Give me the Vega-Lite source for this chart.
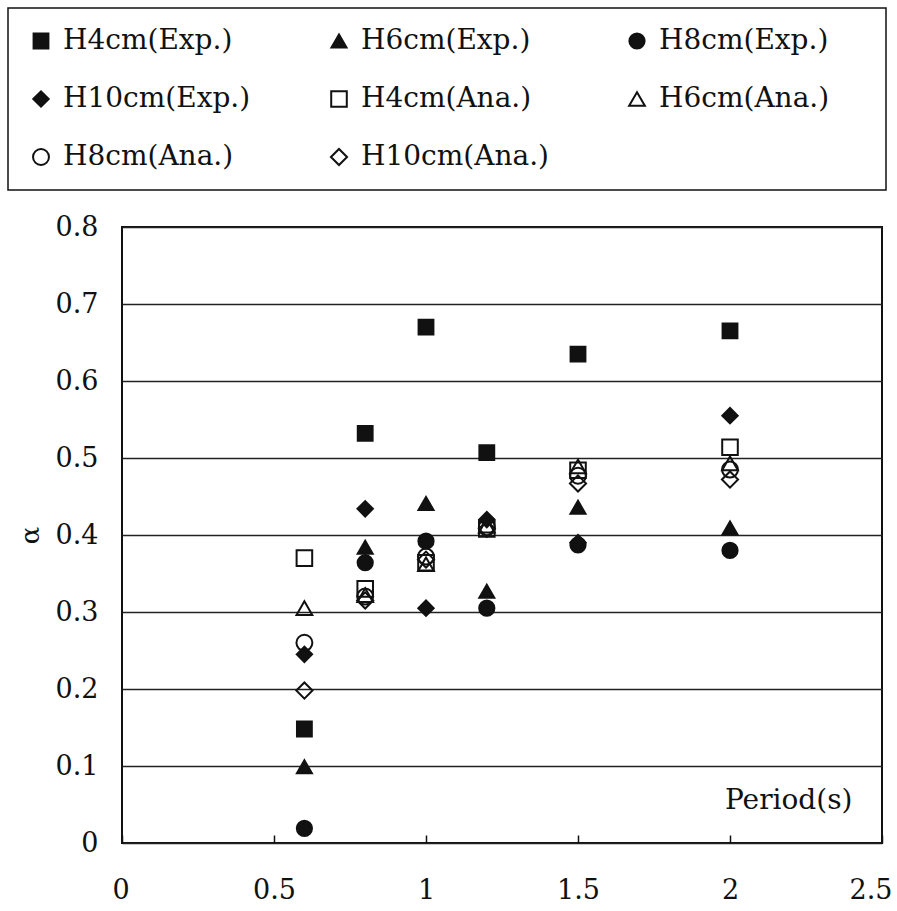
{
  "$schema": "https://vega.github.io/schema/vega-lite/v6.json",
  "autosize": "none",
  "width": 760,
  "height": 616,
  "padding": {"left": 122, "top": 227, "right": 15, "bottom": 68},
  "background": "white",
  "config": {
    "view": {"stroke": "#111", "strokeWidth": 2},
    "font": "DejaVu Serif",
    "legend": {"strokeWidth": 1.5}
  },
  "data": {
    "values": [
      {"series": "H4cm(Exp.)", "period": 0.6, "alpha": 0.148},
      {"series": "H4cm(Exp.)", "period": 0.8, "alpha": 0.532},
      {"series": "H4cm(Exp.)", "period": 1.0, "alpha": 0.670},
      {"series": "H4cm(Exp.)", "period": 1.2, "alpha": 0.507},
      {"series": "H4cm(Exp.)", "period": 1.5, "alpha": 0.635},
      {"series": "H4cm(Exp.)", "period": 2.0, "alpha": 0.665},
      {"series": "H6cm(Exp.)", "period": 0.6, "alpha": 0.099},
      {"series": "H6cm(Exp.)", "period": 0.8, "alpha": 0.384},
      {"series": "H6cm(Exp.)", "period": 1.0, "alpha": 0.441},
      {"series": "H6cm(Exp.)", "period": 1.2, "alpha": 0.327},
      {"series": "H6cm(Exp.)", "period": 1.5, "alpha": 0.436},
      {"series": "H6cm(Exp.)", "period": 2.0, "alpha": 0.409},
      {"series": "H8cm(Exp.)", "period": 0.6, "alpha": 0.019},
      {"series": "H8cm(Exp.)", "period": 0.8, "alpha": 0.364},
      {"series": "H8cm(Exp.)", "period": 1.0, "alpha": 0.392},
      {"series": "H8cm(Exp.)", "period": 1.2, "alpha": 0.305},
      {"series": "H8cm(Exp.)", "period": 1.5, "alpha": 0.387},
      {"series": "H8cm(Exp.)", "period": 2.0, "alpha": 0.380},
      {"series": "H10cm(Exp.)", "period": 0.6, "alpha": 0.245},
      {"series": "H10cm(Exp.)", "period": 0.8, "alpha": 0.434},
      {"series": "H10cm(Exp.)", "period": 1.0, "alpha": 0.305},
      {"series": "H10cm(Exp.)", "period": 1.2, "alpha": 0.420},
      {"series": "H10cm(Exp.)", "period": 1.5, "alpha": 0.390},
      {"series": "H10cm(Exp.)", "period": 2.0, "alpha": 0.555},
      {"series": "H4cm(Ana.)", "period": 0.6, "alpha": 0.370},
      {"series": "H4cm(Ana.)", "period": 0.8, "alpha": 0.330},
      {"series": "H4cm(Ana.)", "period": 1.0, "alpha": 0.364},
      {"series": "H4cm(Ana.)", "period": 1.2, "alpha": 0.408},
      {"series": "H4cm(Ana.)", "period": 1.5, "alpha": 0.484},
      {"series": "H4cm(Ana.)", "period": 2.0, "alpha": 0.514},
      {"series": "H6cm(Ana.)", "period": 0.6, "alpha": 0.305},
      {"series": "H6cm(Ana.)", "period": 0.8, "alpha": 0.322},
      {"series": "H6cm(Ana.)", "period": 1.0, "alpha": 0.362},
      {"series": "H6cm(Ana.)", "period": 1.2, "alpha": 0.412},
      {"series": "H6cm(Ana.)", "period": 1.5, "alpha": 0.489},
      {"series": "H6cm(Ana.)", "period": 2.0, "alpha": 0.493},
      {"series": "H8cm(Ana.)", "period": 0.6, "alpha": 0.260},
      {"series": "H8cm(Ana.)", "period": 0.8, "alpha": 0.320},
      {"series": "H8cm(Ana.)", "period": 1.0, "alpha": 0.372},
      {"series": "H8cm(Ana.)", "period": 1.2, "alpha": 0.410},
      {"series": "H8cm(Ana.)", "period": 1.5, "alpha": 0.477},
      {"series": "H8cm(Ana.)", "period": 2.0, "alpha": 0.485},
      {"series": "H10cm(Ana.)", "period": 0.6, "alpha": 0.198},
      {"series": "H10cm(Ana.)", "period": 0.8, "alpha": 0.315},
      {"series": "H10cm(Ana.)", "period": 1.0, "alpha": 0.368},
      {"series": "H10cm(Ana.)", "period": 1.2, "alpha": 0.408},
      {"series": "H10cm(Ana.)", "period": 1.5, "alpha": 0.467},
      {"series": "H10cm(Ana.)", "period": 2.0, "alpha": 0.472}
    ]
  },
  "mark": {"type": "point", "filled": true, "stroke": "#111", "strokeWidth": 2, "opacity": 1},
  "encoding": {
    "x": {
      "field": "period", "type": "quantitative",
      "scale": {"domain": [0, 2.5], "nice": false, "zero": false},
      "axis": {
        "title": "Period(s)",
        "titleFont": "DejaVu Serif", "titleFontSize": 28, "titleFontWeight": "normal", "titleColor": "#111",
        "titleAnchor": "end", "titleAlign": "right", "titleBaseline": "middle",
        "titleX": 730, "titleY": -43,
        "values": [0, 0.5, 1, 1.5, 2, 2.5],
        "format": "~g",
        "labelFont": "DejaVu Serif", "labelFontSize": 27, "labelColor": "#111",
        "labelPadding": 42, "labelFlush": true, "labelFlushOffset": 10,
        "tickSize": -8, "tickColor": "#111", "tickWidth": 1.5,
        "domain": false, "grid": false
      }
    },
    "y": {
      "field": "alpha", "type": "quantitative",
      "scale": {"domain": [0, 0.8], "nice": false},
      "axis": {
        "title": "α",
        "titleFont": "DejaVu Serif", "titleFontSize": 26, "titleFontWeight": "normal", "titleColor": "#111",
        "titlePadding": 12,
        "values": [0, 0.1, 0.2, 0.3, 0.4, 0.5, 0.6, 0.7, 0.8],
        "format": "~g",
        "labelFont": "DejaVu Serif", "labelFontSize": 27, "labelColor": "#111",
        "labelPadding": 24, "labelFlush": false,
        "ticks": false, "domain": false,
        "grid": true, "gridColor": "#222", "gridWidth": 1.5
      }
    },
    "shape": {
      "field": "series", "type": "nominal",
      "scale": {
        "domain": ["H4cm(Exp.)", "H6cm(Exp.)", "H8cm(Exp.)", "H10cm(Exp.)", "H4cm(Ana.)", "H6cm(Ana.)", "H8cm(Ana.)", "H10cm(Ana.)"],
        "range": ["square", "triangle-up", "circle", "diamond", "square", "triangle-up", "circle", "diamond"]
      },
      "legend": {
        "title": "\u00a0",
        "titleOrient": "right", "titlePadding": 38, "titleFontSize": 20,
        "orient": "none", "legendX": -114, "legendY": -219,
        "direction": "horizontal",
        "columns": 3, "gridAlign": "all",
        "columnPadding": 74, "rowPadding": 30,
        "padding": 19, "strokeColor": "#111", "fillColor": "white",
        "labelFont": "DejaVu Serif", "labelFontSize": 28, "labelColor": "#111", "labelOffset": 8,
        "labelLimit": 400,
        "symbolStrokeColor": "#111", "symbolStrokeWidth": 2,
        "symbolLimit": 0
      }
    },
    "fill": {
      "field": "series", "type": "nominal",
      "scale": {
        "domain": ["H4cm(Exp.)", "H6cm(Exp.)", "H8cm(Exp.)", "H10cm(Exp.)", "H4cm(Ana.)", "H6cm(Ana.)", "H8cm(Ana.)", "H10cm(Ana.)"],
        "range": ["#111", "#111", "#111", "#111", "transparent", "transparent", "transparent", "transparent"]
      }
    },
    "size": {
      "field": "series", "type": "nominal",
      "scale": {
        "domain": ["H4cm(Exp.)", "H6cm(Exp.)", "H8cm(Exp.)", "H10cm(Exp.)", "H4cm(Ana.)", "H6cm(Ana.)", "H8cm(Ana.)", "H10cm(Ana.)"],
        "range": [220, 260, 150, 300, 400, 360, 330, 330]
      }
    }
  }
}
